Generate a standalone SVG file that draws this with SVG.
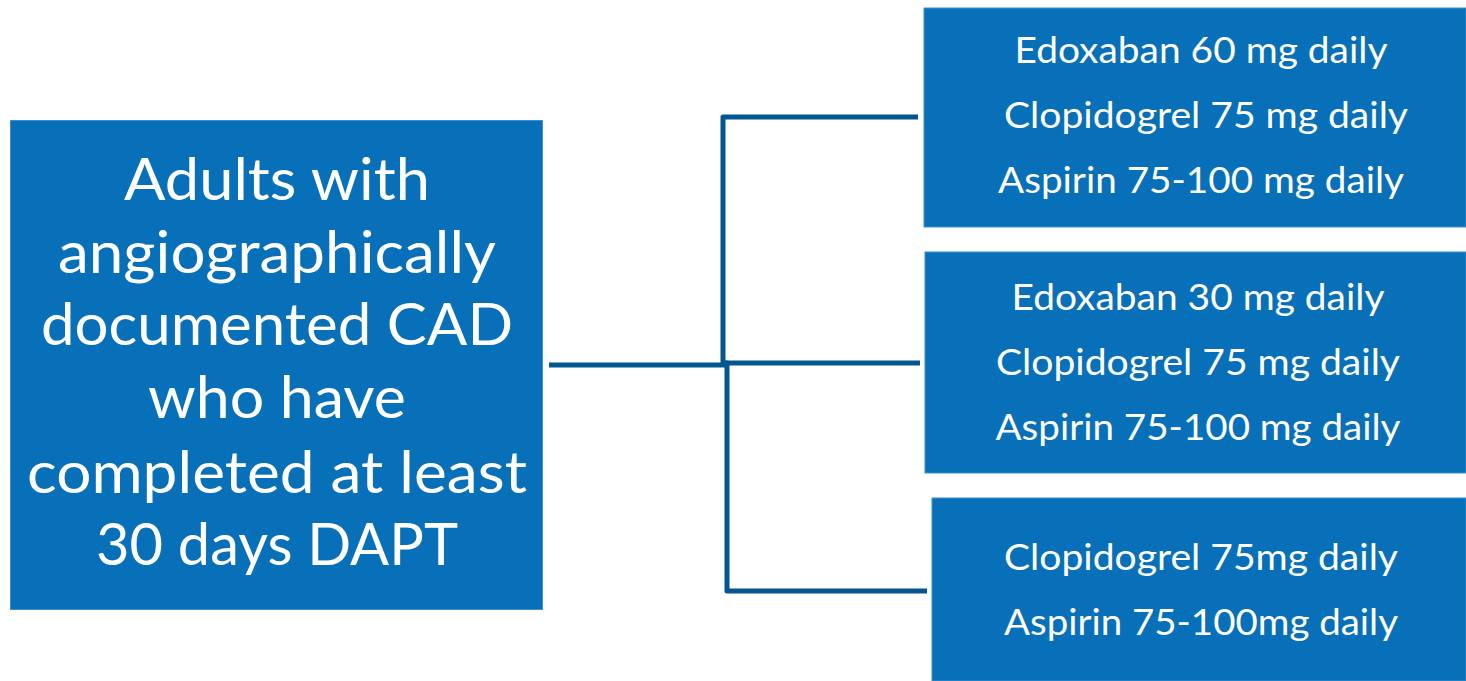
<svg xmlns="http://www.w3.org/2000/svg" width="1466" height="681" viewBox="0 0 1466 681">
<style>
.box{fill:#0870b8;stroke:#3c8fcf;stroke-width:1}
.t{font-family:Lato,"Open Sans","Liberation Sans",sans-serif;fill:#ffffff;text-anchor:middle}
.big{font-size:58px}
.sm{font-size:37px}
.conn{fill:none;stroke:#03568f;stroke-width:5;stroke-linejoin:round}
</style>
<rect width="1466" height="681" fill="#ffffff"/>
<g id="connectors">
<path class="conn" d="M549 365 H725"/>
<path class="conn" d="M918 117 H723 V363 H920"/>
<path class="conn" d="M725 363 H727 V591 H927"/>
</g>
<g id="population">
<rect class="box" x="10.5" y="120.5" width="532" height="489"/>
<text class="t big" x="277" y="200" textLength="306" lengthAdjust="spacingAndGlyphs">Adults with</text>
<text class="t big" x="277" y="273" textLength="438" lengthAdjust="spacingAndGlyphs">angiographically</text>
<text class="t big" x="277" y="345" textLength="472" lengthAdjust="spacingAndGlyphs">documented CAD</text>
<text class="t big" x="277" y="418" textLength="258" lengthAdjust="spacingAndGlyphs">who have</text>
<text class="t big" x="277" y="493" textLength="500" lengthAdjust="spacingAndGlyphs">completed at least</text>
<text class="t big" x="277" y="565" textLength="362" lengthAdjust="spacingAndGlyphs">30 days DAPT</text>
</g>
<g id="arm1">
<rect class="box" x="924" y="8" width="542" height="219"/>
<text class="t sm" x="1201" y="63" textLength="373" lengthAdjust="spacingAndGlyphs">Edoxaban 60 mg daily</text>
<text class="t sm" x="1206" y="128" textLength="404" lengthAdjust="spacingAndGlyphs">Clopidogrel 75 mg daily</text>
<text class="t sm" x="1201" y="193" textLength="406" lengthAdjust="spacingAndGlyphs">Aspirin 75-100 mg daily</text>
</g>
<g id="arm2">
<rect class="box" x="925" y="252" width="541" height="221"/>
<text class="t sm" x="1198" y="310" textLength="373" lengthAdjust="spacingAndGlyphs">Edoxaban 30 mg daily</text>
<text class="t sm" x="1198" y="375" textLength="404" lengthAdjust="spacingAndGlyphs">Clopidogrel 75 mg daily</text>
<text class="t sm" x="1198" y="440" textLength="405" lengthAdjust="spacingAndGlyphs">Aspirin 75-100 mg daily</text>
</g>
<g id="arm3">
<rect class="box" x="932" y="498" width="534" height="183"/>
<text class="t sm" x="1201" y="570" textLength="394" lengthAdjust="spacingAndGlyphs">Clopidogrel 75mg daily</text>
<text class="t sm" x="1201" y="635" textLength="394" lengthAdjust="spacingAndGlyphs">Aspirin 75-100mg daily</text>
</g>
</svg>
